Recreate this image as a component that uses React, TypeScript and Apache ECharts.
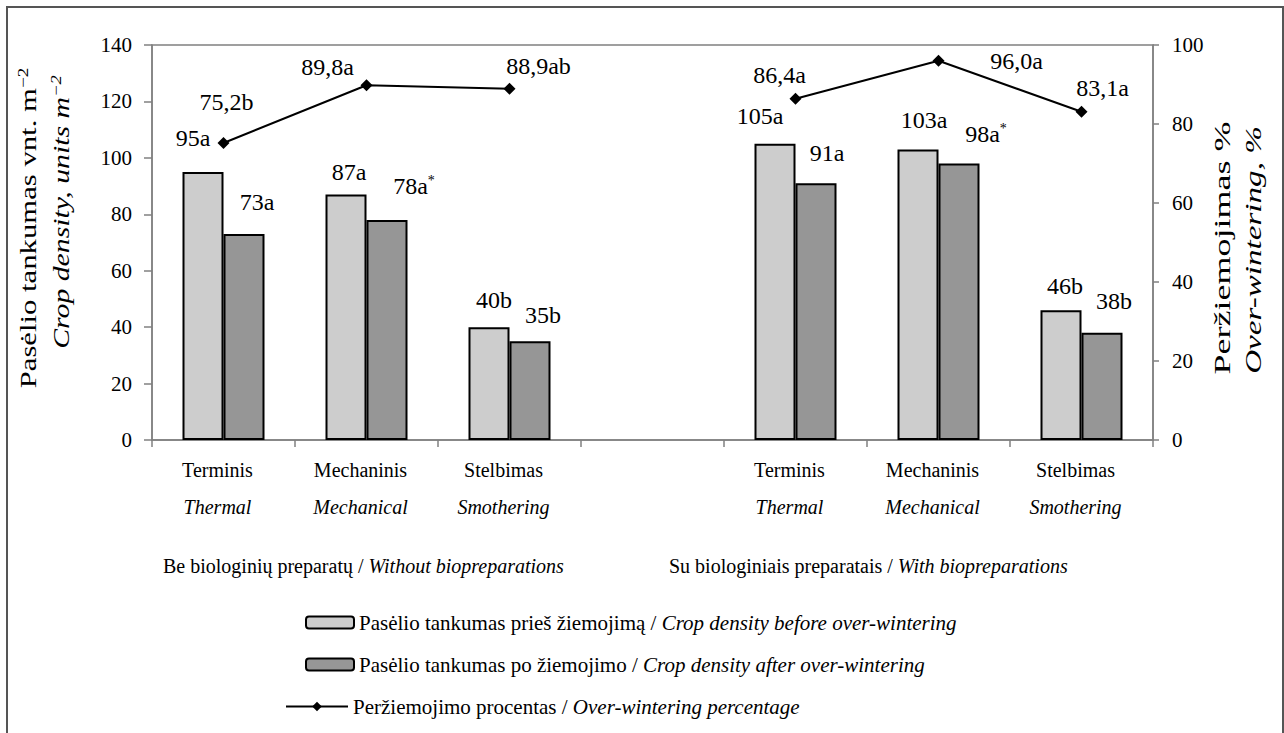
import React, { useEffect, useRef } from "react";
import * as echarts from "echarts";

// ---- data ----
const categoryIds = ["c0", "c1", "c2", "c3", "c4", "c5", "c6"];
const categoryLt = ["Terminis", "Mechaninis", "Stelbimas", "", "Terminis", "Mechaninis", "Stelbimas"];
const categoryEn = ["Thermal", "Mechanical", "Smothering", "", "Thermal", "Mechanical", "Smothering"];
const densityBefore = [95, 87, 40, null, 105, 103, 46];
const densityAfter = [73, 78, 35, null, 91, 98, 38];
const overWintering = [75.2, 89.8, 88.9, null, 86.4, 96.0, 83.1];
const beforeLabels = ["95a", "87a", "40b", "", "105a", "103a", "46b"];
const afterLabels = ["73a", "78a*", "35b", "", "91a", "98a*", "38b"];
const pctLabels = ["75,2b", "89,8a", "88,9ab", "", "86,4a", "96,0a", "83,1a"];
const leftTicks = [0, 20, 40, 60, 80, 100, 120, 140];
const rightTicks = [0, 20, 40, 60, 80, 100];

// ---- label placement (style) ----
const beforeOffsets = [[-10, -17], [3, -6], [5, -10], [0, 0], [-15, -11], [6, -12], [4, -7]];
const afterOffsets = [[13, -15], [27, -17], [13, -9], [0, 0], [11, -13], [27, -13], [12, -15]];
const pctOffsets = [[3, -41], [-39, -18], [29, -23], [0, 0], [-16, -24], [78, 0], [21, -24]];

const SERIF = "'Liberation Serif', 'Times New Roman', serif";
const SERIF2 = "'Times New Roman', 'Liberation Serif', serif";

const labelRich = {
  v: { fontFamily: SERIF2, fontSize: 24, color: "#000" },
  s: { fontFamily: SERIF2, fontSize: 14, color: "#000", verticalAlign: "top" as const },
};

function fmtLabel(t: string) {
  if (!t) return "";
  if (t.endsWith("*")) return `{v|${t.slice(0, -1)}}{s|*}`;
  return `{v|${t}}`;
}

const legendText: Record<string, [string, string]> = {
  before: ["Pasėlio tankumas prieš žiemojimą / ", "Crop density before over-wintering"],
  after: ["Pasėlio tankumas po žiemojimo / ", "Crop density after over-wintering"],
  pct: ["Peržiemojimo procentas / ", "Over-wintering percentage"],
};

const legendRich = {
  n: { fontFamily: SERIF2, fontSize: 21, color: "#000" },
  i: { fontFamily: SERIF2, fontSize: 21, color: "#000", fontStyle: "italic" as const },
};

function makeLegend(name: string, left: number, top: number, w: number) {
  return {
    data: [name],
    left,
    top,
    padding: 0,
    itemWidth: w,
    itemHeight: 12,
    selectedMode: false,
    formatter: (n: string) => `{n|${legendText[n][0]}}{i|${legendText[n][1]}}`,
    textStyle: { fontFamily: SERIF2, rich: legendRich },
  };
}

export default function App() {
  const ref = useRef<HTMLDivElement>(null);
  useEffect(() => {
    document.body.style.margin = "0";
    const chart = echarts.init(ref.current!, null, { renderer: "svg" });
    const option = {
      animation: false,
      grid: {
        left: 152,
        top: 45,
        width: 1001,
        height: 395,
        show: true,
        borderColor: "#808080",
        borderWidth: 1.5,
      },
      legend: [
        makeLegend("before", 305, 612, 48),
        makeLegend("after", 305, 654, 48),
        makeLegend("pct", 285, 696, 62),
      ],
      xAxis: {
        type: "category",
        data: categoryIds,
        axisLine: { lineStyle: { color: "#808080", width: 1.5 } },
        axisTick: { show: true, length: 7, lineStyle: { color: "#808080", width: 1.5 } },
        axisLabel: {
          interval: 0,
          margin: 11,
          padding: [0, 12, 0, 0],
          formatter: (_v: string, i: number) =>
            categoryLt[i] ? `{n|${categoryLt[i]}}\n{i|${categoryEn[i]}}` : "",
          rich: {
            n: { fontFamily: SERIF, fontSize: 20, color: "#000", lineHeight: 37 },
            i: { fontFamily: SERIF, fontSize: 20, color: "#000", lineHeight: 37, fontStyle: "italic" },
          },
        },
      },
      yAxis: [
        {
          type: "value",
          min: leftTicks[0],
          max: leftTicks[leftTicks.length - 1],
          interval: leftTicks[1] - leftTicks[0],
          axisLine: { show: true, lineStyle: { color: "#808080", width: 1.5 } },
          axisTick: { show: true, length: 8, lineStyle: { color: "#808080", width: 1.5 } },
          splitLine: { show: false },
          axisLabel: { margin: 20, fontFamily: SERIF2, fontSize: 21, color: "#000" },
        },
        {
          type: "value",
          position: "right",
          min: rightTicks[0],
          max: rightTicks[rightTicks.length - 1],
          interval: rightTicks[1] - rightTicks[0],
          axisLine: { show: true, lineStyle: { color: "#808080", width: 1.5 } },
          axisTick: { show: true, length: 6, lineStyle: { color: "#808080", width: 1.5 } },
          splitLine: { show: false },
          axisLabel: { margin: 19, fontFamily: SERIF2, fontSize: 21, color: "#000" },
        },
      ],
      series: [
        {
          name: "before",
          type: "bar",
          barWidth: 41,
          barGap: "0%",
          itemStyle: { color: "#cdcdcd", borderColor: "#000", borderWidth: 2 },
          data: densityBefore.map((v, i) => ({
            value: v,
            label: {
              show: v !== null,
              position: "top",
              offset: beforeOffsets[i],
              formatter: () => fmtLabel(beforeLabels[i]),
              rich: labelRich,
            },
          })),
        },
        {
          name: "after",
          type: "bar",
          barWidth: 41,
          barGap: "0%",
          itemStyle: { color: "#969696", borderColor: "#000", borderWidth: 2 },
          data: densityAfter.map((v, i) => ({
            value: v,
            label: {
              show: v !== null,
              position: "top",
              offset: afterOffsets[i],
              formatter: () => fmtLabel(afterLabels[i]),
              rich: labelRich,
            },
          })),
        },
        {
          name: "pct",
          type: "line",
          yAxisIndex: 1,
          symbol: "diamond",
          symbolSize: 12,
          connectNulls: false,
          lineStyle: { color: "#000", width: 2 },
          itemStyle: { color: "#000" },
          data: overWintering.map((v, i) => ({
            value: v,
            label: {
              show: v !== null,
              position: "inside",
              offset: pctOffsets[i],
              formatter: () => fmtLabel(pctLabels[i]),
              rich: labelRich,
            },
          })),
        },
      ],
      graphic: [
        {
          type: "rect",
          shape: { x: 7, y: 7, width: 1276, height: 740 },
          style: { fill: "none", stroke: "#555", lineWidth: 2 },
          silent: true,
        },
        {
          type: "text",
          x: 28,
          y: 228,
          rotation: Math.PI / 2,
          scaleX: 1.28,
          style: {
            text: "{n|Pasėlio tankumas vnt. m}{s|−2}",
            align: "center",
            verticalAlign: "middle",
            rich: {
              n: { fontFamily: SERIF2, fontSize: 24, fill: "#000" },
              s: { fontFamily: SERIF2, fontSize: 15, fill: "#000", verticalAlign: "top" },
            },
          },
        },
        {
          type: "text",
          x: 61,
          y: 212,
          rotation: Math.PI / 2,
          scaleX: 1.24,
          style: {
            text: "{n|Crop density, units m}{s|−2}",
            align: "center",
            verticalAlign: "middle",
            rich: {
              n: { fontFamily: SERIF2, fontSize: 24, fill: "#000", fontStyle: "italic" },
              s: { fontFamily: SERIF2, fontSize: 15, fill: "#000", fontStyle: "italic", verticalAlign: "top" },
            },
          },
        },
        {
          type: "text",
          x: 1222,
          y: 248,
          rotation: Math.PI / 2,
          scaleX: 1.5,
          style: {
            text: "Peržiemojimas %",
            align: "center",
            verticalAlign: "middle",
            fontFamily: SERIF2,
            fontSize: 24,
            fill: "#000",
          },
        },
        {
          type: "text",
          x: 1253,
          y: 250,
          rotation: Math.PI / 2,
          scaleX: 1.38,
          style: {
            text: "Over-wintering, %",
            align: "center",
            verticalAlign: "middle",
            fontFamily: SERIF2,
            fontSize: 24,
            fontStyle: "italic",
            fill: "#000",
          },
        },
        {
          type: "text",
          x: 163,
          y: 566,
          style: {
            text: "{n|Be biologinių preparatų / }{i|Without biopreparations}",
            align: "left",
            verticalAlign: "middle",
            rich: {
              n: { fontFamily: SERIF, fontSize: 20, fill: "#000" },
              i: { fontFamily: SERIF, fontSize: 20, fill: "#000", fontStyle: "italic" },
            },
          },
        },
        {
          type: "text",
          x: 669,
          y: 566,
          style: {
            text: "{n|Su biologiniais preparatais / }{i|With biopreparations}",
            align: "left",
            verticalAlign: "middle",
            rich: {
              n: { fontFamily: SERIF, fontSize: 20, fill: "#000" },
              i: { fontFamily: SERIF, fontSize: 20, fill: "#000", fontStyle: "italic" },
            },
          },
        },
      ],
    };
    chart.setOption(option as any);
    return () => chart.dispose();
  }, []);
  return <div ref={ref} style={{ width: 1284, height: 733 }} />;
}
